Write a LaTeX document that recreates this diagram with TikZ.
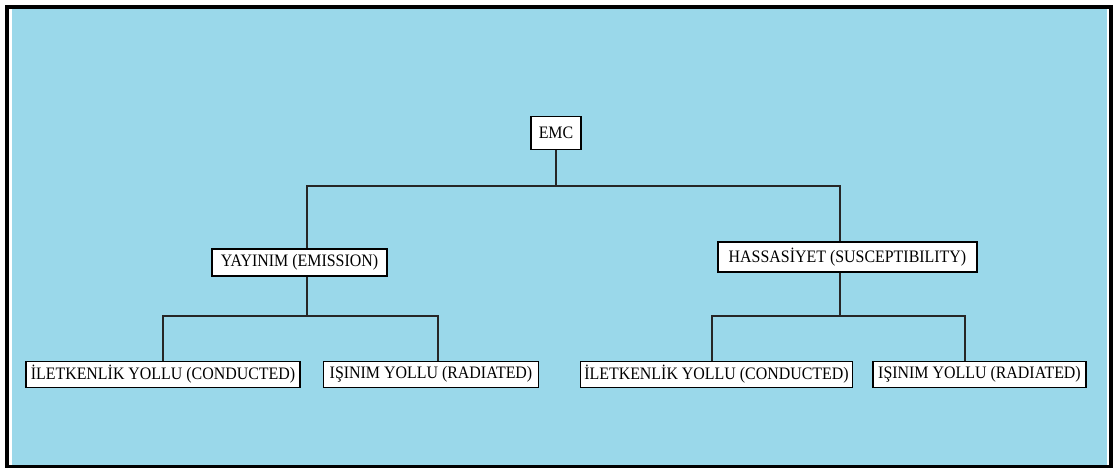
\documentclass[tikz,border=0pt]{standalone}
\usepackage{fontspec}
\setmainfont{Liberation Serif}[FakeStretch=0.91]
\usetikzlibrary{positioning,calc}
\definecolor{skyfill}{RGB}{154,216,234}
\tikzset{
  box/.style={draw, line width=1.3pt, fill=white, inner sep=0pt, font=\fontsize{17.5}{19}\selectfont},
  wire/.style={line width=1.2pt, draw=black!85}
}

\begin{document}
\begin{tikzpicture}[x=1pt, y=-1pt]
  \useasboundingbox (0,0) rectangle (1113,468);
  % ------------------------------------------------------------------ frame
  \fill[black] (5,5) rectangle (1113,468);
  \fill[white] (9,9) rectangle (1109,465);
  \fill[skyfill] (12,9) rectangle (1107,465);
  % ------------------------------------------------------------------ boxes
  \node[box, minimum width=50pt, minimum height=33pt] (emc) at (556,133) {EMC};
  \node[box, minimum width=175pt, minimum height=27pt] (yay) at (299.5,262.5) {YAYINIM (EMISSION)};
  \node[box, minimum width=259pt, minimum height=30pt] (has) at (847.5,257) {HASSASİYET (SUSCEPTIBILITY)};
  \node[box, minimum width=274pt, minimum height=26pt] (yayc) at (163,374.5) {İLETKENLİK YOLLU (CONDUCTED)};
  \node[box, minimum width=215pt, minimum height=26pt] (yayr) at (431,374.5) {IŞINIM YOLLU (RADIATED)};
  \node[box, minimum width=272pt, minimum height=26pt] (hasc) at (716.5,374.5) {İLETKENLİK YOLLU (CONDUCTED)};
  \node[box, minimum width=213pt, minimum height=26pt] (hasr) at (979.5,374.5) {IŞINIM YOLLU (RADIATED)};
  % ------------------------------------------------------------------ connectors
  \coordinate (jtop) at (556,186);
  \coordinate (jyay) at (307,316);
  \coordinate (jhas) at (840,316);
  \draw[wire] (emc.south) -- (jtop);
  \draw[wire] (jtop) -| ([xshift=7.5pt]yay.north);
  \draw[wire] (jtop) -| ([xshift=-7.5pt]has.north);
  \draw[wire] (yay.south -| jyay) -- (jyay);
  \draw[wire] (jyay) -| (yayc.north);
  \draw[wire] (jyay) -| ([xshift=7pt]yayr.north);
  \draw[wire] (has.south -| jhas) -- (jhas);
  \draw[wire] (jhas) -| ([xshift=-4.5pt]hasc.north);
  \draw[wire] (jhas) -| ([xshift=-14.5pt]hasr.north);
\end{tikzpicture}
\end{document}
